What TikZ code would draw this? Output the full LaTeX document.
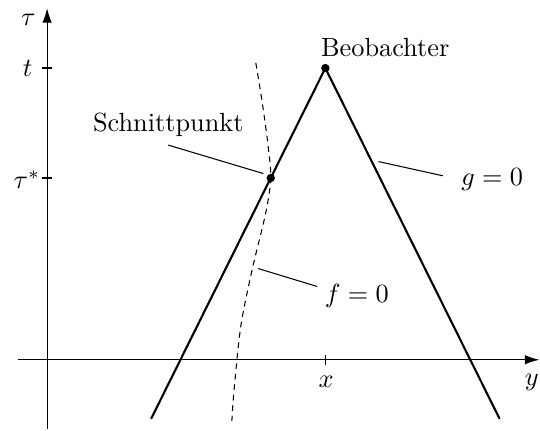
\documentclass[tikz,border=0pt]{standalone}
\usetikzlibrary{arrows.meta}

\begin{document}
\begin{tikzpicture}[
    axis/.style={-{Latex[length=5.5pt,width=3.6pt]}},
    cone/.style={thick},             % Lichtkegel des Beobachters
    surface/.style={dash pattern=on 2.2pt off 1.8pt},
    leader/.style={thin},
    event/.style={
        circle,
        fill,
        minimum size=3.2pt,  % small black dot
        inner sep=0pt
    },
    tickmark/.style={semithick}
]
\useasboundingbox (-0.63,-0.95) rectangle (6.59,4.81);

% axes
\coordinate (ylow) at (-0.39,0);
\coordinate (yhigh) at (6.58,0);
\coordinate (taulow) at (0,-0.92);
\coordinate (tauhigh) at (0,4.70);
\draw[axis] (ylow) -- (yhigh);
\draw[axis] (taulow) -- (tauhigh);

% events
\node[event] (beob) at (3.72,3.90) {};
\node[event] (schnitt) at (2.99,2.43) {};
\coordinate (left end) at (1.39,-0.79);
\coordinate (right end) at (6.05,-0.79);
\draw[cone] (left end) -- (beob.center) -- (right end);

% ticks
\coordinate (ttick) at (0,3.90);
\coordinate (startick) at (0,2.43);
\coordinate (xtick) at (3.72,0);
\draw[tickmark] ([xshift=-2pt]ttick) -- ([xshift=2pt]ttick);
\draw[tickmark] ([xshift=-2pt]startick) -- ([xshift=2pt]startick);
\draw[tickmark] ([yshift=-2pt]xtick) -- ([yshift=2pt]xtick);

% Flaeche f = 0
\draw[surface] plot[smooth] coordinates {
    (2.79,3.97) (2.87,3.48) (2.95,2.90) (2.99,2.43)
    (2.92,1.95) (2.74,1.20) (2.59,0.45) (2.50,-0.40) (2.47,-0.82)};

% labels
\node (tau) at (-0.25,4.55) {$\tau$};
\node (tlabel) at (-0.26,3.89) {$t$};
\node (starlabel) at (-0.27,2.41) {$\tau^*$};
\node (xlabel) at (3.73,-0.29) {$x$};
\node (ylabel) at (6.48,-0.30) {$y$};
\node (beoblabel) at (4.52,4.18) {Beobachter};
\node (schnittlabel) at (1.62,3.14) {Schnittpunkt};
\node (flabel) at (4.14,0.86) {$f=0$};
\node (glabel) at (5.95,2.41) {$g=0$};

% Hinweislinien
\coordinate (s1) at (1.62,2.87);
\coordinate (s2) at (2.89,2.49);
\coordinate (f1) at (2.82,1.22);
\coordinate (f2) at (3.61,0.98);
\coordinate (g1) at (4.43,2.65);
\coordinate (g2) at (5.29,2.46);
\draw[leader] (s1) -- (s2);
\draw[leader] (f1) -- (f2);
\draw[leader] (g1) -- (g2);
\end{tikzpicture}
\end{document}
